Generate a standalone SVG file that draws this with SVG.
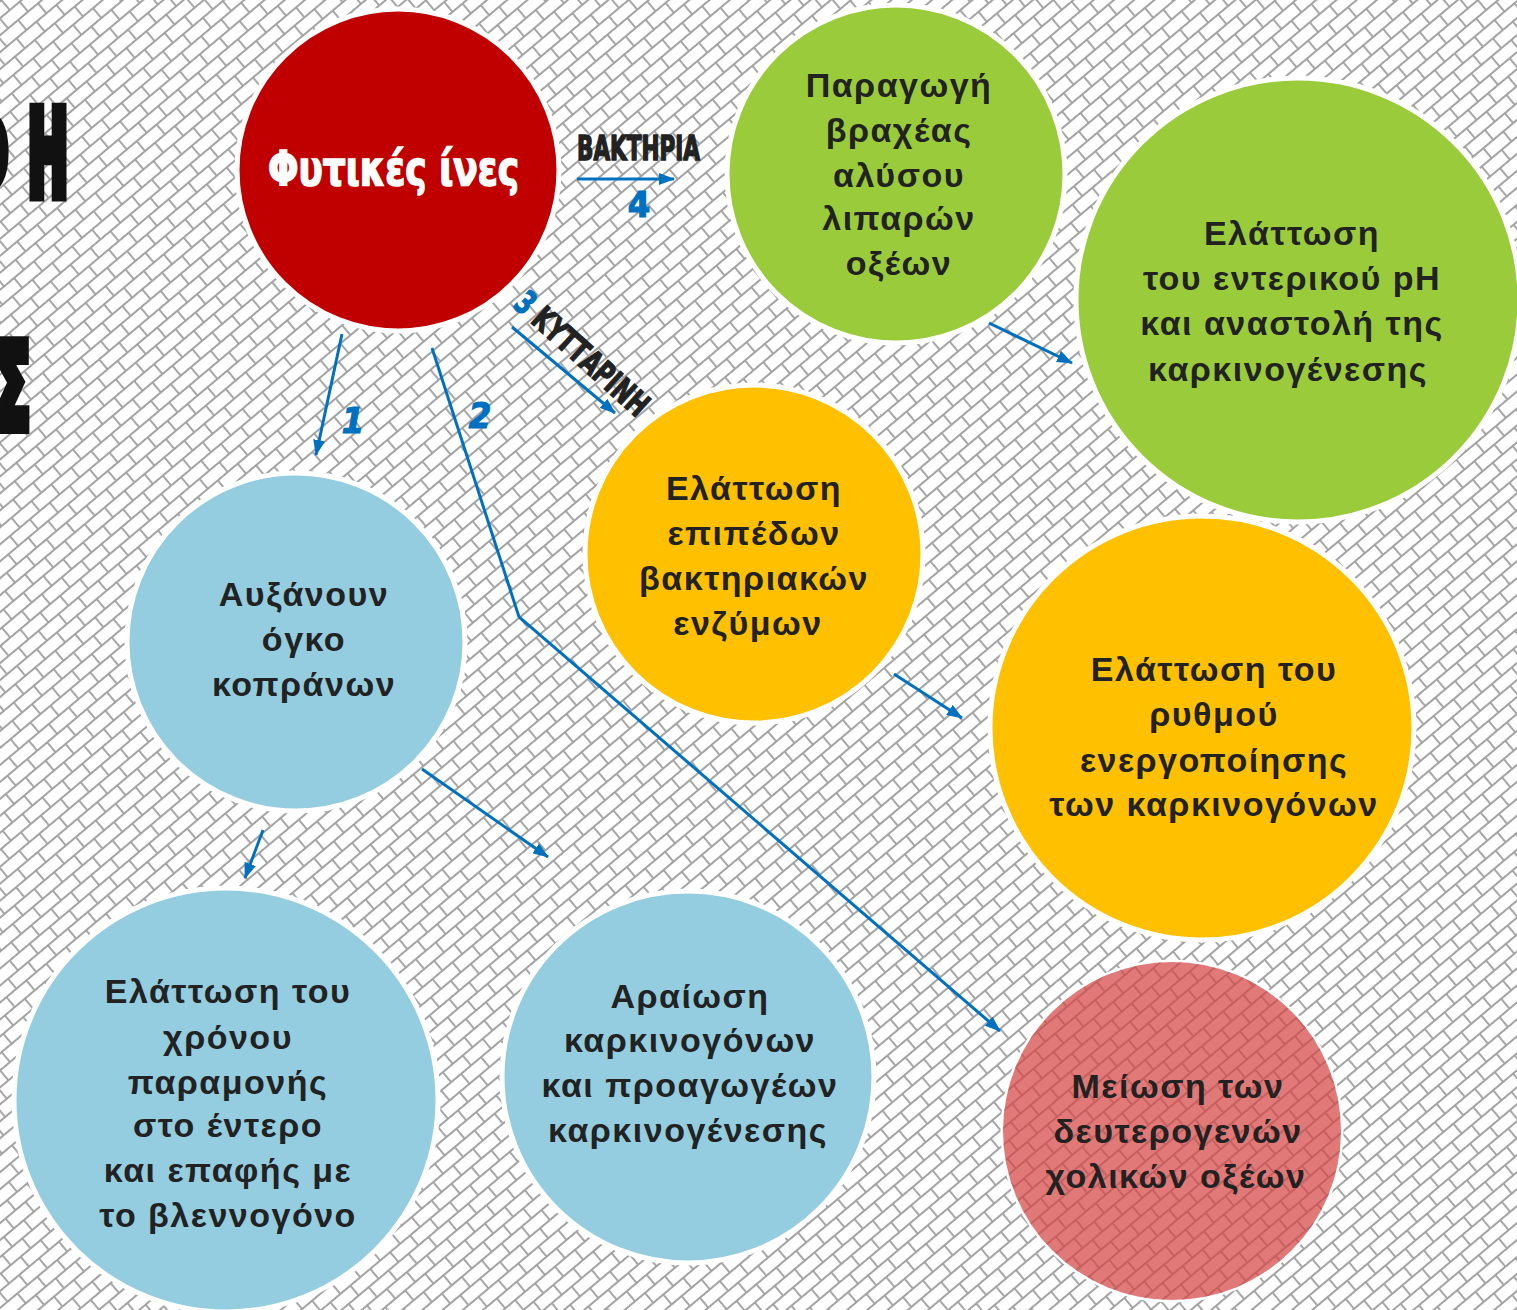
<svg xmlns="http://www.w3.org/2000/svg" width="1517" height="1310" viewBox="0 0 1517 1310">
<defs>
<pattern id="brick" width="26" height="26" patternUnits="userSpaceOnUse" patternTransform="rotate(-40)">
<path d="M0,1 H26 M0,14 H26 M1,1 V14 M14,14 V27" stroke="#a3a3a3" stroke-width="1.9" fill="none"/>
</pattern>
<marker id="ah" viewBox="0 0 16 12" refX="15" refY="6" markerWidth="16" markerHeight="12" markerUnits="userSpaceOnUse" orient="auto">
<path d="M0,0 L16,6 L0,12 z" fill="#0070C0"/>
</marker>
</defs>
<style>
.node{stroke:#ffffff;stroke-width:5}
.t{font-family:"Liberation Sans",Arial,sans-serif;font-weight:bold;font-size:34px;letter-spacing:1.5px;fill:#222222;text-anchor:middle}
.cond{font-family:"Liberation Sans Narrow","DejaVu Sans Condensed","Liberation Sans",sans-serif;font-weight:bold}
.num{font-family:"Liberation Sans Narrow","DejaVu Sans Condensed","Liberation Sans",sans-serif;font-weight:bold;font-size:36px;fill:#0070C0;stroke:#0070C0;stroke-width:1.2;text-anchor:middle}
.con{stroke:#0070C0;stroke-width:3;fill:none;marker-end:url(#ah)}
</style>
<rect width="1517" height="1310" fill="#ffffff"/>
<rect width="1517" height="1310" fill="url(#brick)"/>

<g id="title-fragments" class="cond" fill="#111111" stroke="#111111" font-size="118">
<text transform="translate(0,195) scale(0.45,1)" x="-72 62" y="0" stroke-width="13">ΦΗ</text>
<text transform="translate(0,428) scale(0.5,1)" x="-12" y="0" stroke-width="12">Σ</text>
</g>

<g id="connectors">
<line class="con" x1="577" y1="179" x2="674" y2="179"/>
<line class="con" x1="512" y1="327" x2="615" y2="413"/>
<line class="con" x1="342" y1="334" x2="316" y2="455"/>
<polyline class="con" stroke-width="2.2" points="432,348 519,617 1000,1031"/>
<line class="con" x1="422" y1="769" x2="548" y2="857"/>
<line class="con" x1="263" y1="830" x2="245" y2="878"/>
<line class="con" x1="989" y1="323" x2="1072" y2="363"/>
<line class="con" x1="894" y1="674" x2="962" y2="718"/>
<text class="cond" x="577" y="160" font-size="34" fill="#222222" stroke="#222222" stroke-width="1.5" textLength="123" lengthAdjust="spacingAndGlyphs">ΒΑΚΤΗΡΙΑ</text>
<text class="num" x="639" y="217">4</text>
<text class="num" x="353" y="433" font-style="italic">1</text>
<text class="num" x="480" y="428" font-style="italic">2</text>
<text class="cond" x="512" y="306" font-size="33" fill="#222222" stroke="#222222" stroke-width="1.3" transform="rotate(42 512 306)" textLength="168" lengthAdjust="spacingAndGlyphs"><tspan fill="#0070C0" stroke="#0070C0">3</tspan> ΚΥΤΤΑΡΙΝΗ</text>
</g>

<g id="fytikes-ines">
<circle class="node" cx="398" cy="170" r="161" fill="#C00000"/>
<text class="cond" x="268" y="185" font-size="48" fill="#ffffff" stroke="#ffffff" stroke-width="1.6" textLength="251" lengthAdjust="spacingAndGlyphs">Φυτικές ίνες</text>
</g>

<g id="paragogi">
<circle class="node" cx="896" cy="174" r="169" fill="#9ACB3B"/>
<text class="t" x="899" y="97">Παραγωγή</text>
<text class="t" x="899" y="142">βραχέας</text>
<text class="t" x="899" y="187">αλύσου</text>
<text class="t" x="899" y="230">λιπαρών</text>
<text class="t" x="899" y="275">οξέων</text>
</g>

<g id="ph">
<circle class="node" cx="1298" cy="300" r="222" fill="#9ACB3B"/>
<text class="t" x="1292" y="245">Ελάττωση</text>
<text class="t" x="1292" y="290">του εντερικού pH</text>
<text class="t" x="1292" y="335">και αναστολή της</text>
<text class="t" x="1288" y="381">καρκινογένεσης</text>
</g>

<g id="enzymes">
<circle class="node" cx="754" cy="554" r="169" fill="#FFC000"/>
<text class="t" x="754" y="500">Ελάττωση</text>
<text class="t" x="754" y="545">επιπέδων</text>
<text class="t" x="754" y="590">βακτηριακών</text>
<text class="t" x="748" y="635">ενζύμων</text>
</g>

<g id="rythmos">
<circle class="node" cx="1202" cy="728" r="212" fill="#FFC000"/>
<text class="t" x="1214" y="681">Ελάττωση του</text>
<text class="t" x="1214" y="726">ρυθμού</text>
<text class="t" x="1214" y="772">ενεργοποίησης</text>
<text class="t" x="1214" y="816">των καρκινογόνων</text>
</g>

<g id="ogkos">
<circle class="node" cx="296" cy="642" r="169" fill="#93CDDF"/>
<text class="t" x="304" y="606">Αυξάνουν</text>
<text class="t" x="304" y="651">όγκο</text>
<text class="t" x="304" y="696">κοπράνων</text>
</g>

<g id="xronos">
<circle class="node" cx="226" cy="1100" r="212" fill="#93CDDF"/>
<text class="t" x="228" y="1003">Ελάττωση του</text>
<text class="t" x="228" y="1049">χρόνου</text>
<text class="t" x="228" y="1094">παραμονής</text>
<text class="t" x="228" y="1137">στο έντερο</text>
<text class="t" x="228" y="1182">και επαφής με</text>
<text class="t" x="228" y="1227">το βλεννογόνο</text>
</g>

<g id="araiosi">
<circle class="node" cx="688" cy="1077" r="186" fill="#93CDDF"/>
<text class="t" x="690" y="1008">Αραίωση</text>
<text class="t" x="690" y="1052">καρκινογόνων</text>
<text class="t" x="690" y="1097">και προαγωγέων</text>
<text class="t" x="688" y="1142">καρκινογένεσης</text>
</g>

<g id="xolika">
<circle cx="1172" cy="1131" r="169" fill="#ffffff" stroke="#ffffff" stroke-width="5"/>
<circle cx="1172" cy="1131" r="169" fill="url(#brick)"/>
<circle cx="1172" cy="1131" r="169" fill="#D64545" fill-opacity="0.72"/>
<text class="t" x="1178" y="1098">Μείωση των</text>
<text class="t" x="1178" y="1143">δευτερογενών</text>
<text class="t" x="1176" y="1188">χολικών οξέων</text>
</g>
</svg>
